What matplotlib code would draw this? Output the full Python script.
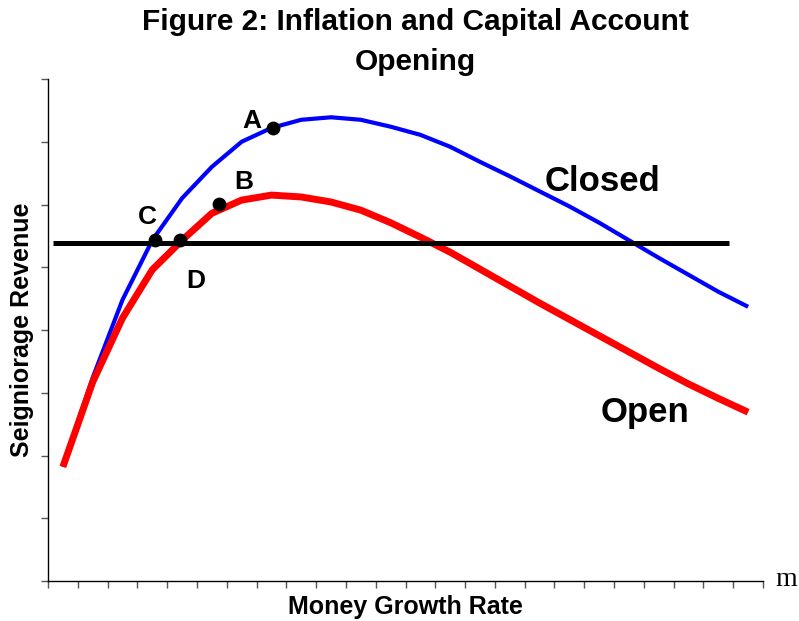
import matplotlib
matplotlib.use('Agg')
import matplotlib.pyplot as plt

# data
money_growth = [0.5 + i for i in range(24)]
closed_rev = [1.82, 3.24, 4.48, 5.43, 6.10, 6.60, 7.00, 7.22, 7.35, 7.39, 7.35, 7.24,
              7.11, 6.92, 6.68, 6.45, 6.21, 5.97, 5.71, 5.43, 5.15, 4.88, 4.61, 4.37]
open_rev = [1.82, 3.17, 4.19, 4.96, 5.43, 5.86, 6.07, 6.15, 6.12, 6.04, 5.91, 5.71,
            5.48, 5.24, 4.97, 4.70, 4.43, 4.17, 3.91, 3.65, 3.39, 3.14, 2.91, 2.69]
level_x = [0.17, 22.85]
level_y = [5.39, 5.39]
point_names = ['A', 'B', 'C', 'D']
point_x = [7.55, 5.74, 3.59, 4.43]
point_y = [7.22, 6.01, 5.43, 5.43]

plt.rcParams['font.family'] = ['Liberation Sans', 'DejaVu Sans']

fig = plt.figure(figsize=(7.99, 6.21), dpi=100)
ax = fig.add_axes([48 / 799, 1 - 581 / 621, 715 / 799, 502 / 621])

ax.plot(money_growth, closed_rev, color='#0000ff', lw=3.0, solid_capstyle='butt', zorder=3)
ax.plot(money_growth, open_rev, color='#ff0000', lw=5.0, solid_capstyle='butt', zorder=3)
ax.plot(level_x, level_y, color='black', lw=3.6, solid_capstyle='butt', zorder=4)
ax.scatter(point_x, point_y, s=80, color='black', zorder=5)

# point labels, offsets in pixels
lbl_offsets = {'A': (-21, 7), 'B': (25, 22), 'C': (-8, 23), 'D': (16, -41)}
for name, px, py in zip(point_names, point_x, point_y):
    dx, dy = lbl_offsets[name]
    ax.annotate(name, (px, py), xytext=(dx * 0.72, dy * 0.72), textcoords='offset points',
                ha='center', va='center', fontsize=19, fontweight='bold')

ax.text(18.62, 6.37, 'Closed', ha='center', va='center', fontsize=25, fontweight='bold')
ax.text(20.03, 2.69, 'Open', ha='center', va='center', fontsize=25, fontweight='bold')

ax.set_xlim(0, 24)
ax.set_ylim(0, 8)
ax.set_xticks(range(25))
ax.set_yticks(range(9))
ax.set_xticklabels([])
ax.set_yticklabels([])
ax.tick_params(axis='both', direction='out', length=5, width=1, color='#555555')
ax.spines['top'].set_visible(False)
ax.spines['right'].set_visible(False)
ax.spines['left'].set_linewidth(1)
ax.spines['bottom'].set_linewidth(1)

fig.text(415 / 799, 1 - 42 / 621, 'Figure 2: Inflation and Capital Account\nOpening',
         ha='center', va='center', fontsize=21.5, fontweight='bold', linespacing=1.5)
fig.text(405 / 799, 1 - 607 / 621, 'Money Growth Rate', ha='center', va='center',
         fontsize=18, fontweight='bold')
fig.text(22 / 799, 1 - 330 / 621, 'Seigniorage Revenue', ha='center', va='center',
         rotation=90, fontsize=18, fontweight='bold')
fig.text(797 / 799, 1 - 579 / 621, 'm', ha='right', va='center', fontsize=20,
         family=['Liberation Serif', 'DejaVu Serif'])

fig.savefig('out.png', dpi=100)
